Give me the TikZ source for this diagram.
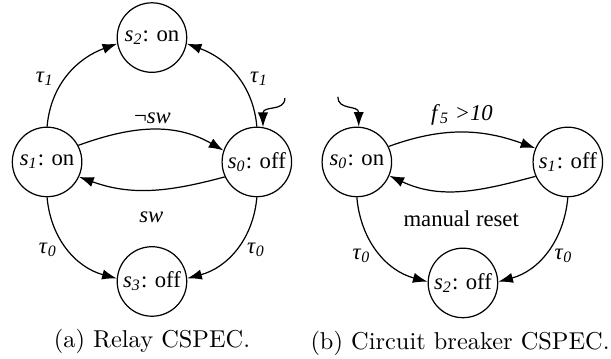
\documentclass[tikz,border=0pt]{standalone}
\usepackage{fontspec}
\newfontfamily\tnr{Liberation Serif}
\usetikzlibrary{arrows.meta}
\newcommand{\stname}[2]{\textit{s}\textsubscript{\textit{#1}}: #2}
\newcommand{\tlab}[1]{\textit{τ}\textsubscript{\textit{#1}}}
\begin{document}
\begin{tikzpicture}[node distance=86pt, every node/.style={font=\tnr\fontsize{9.3}{11}\selectfont}]
    \tikzstyle{state} = [circle, draw, line width=0.5pt, minimum size=28.5pt, inner sep=0pt]
    \tikzstyle{edge} = [-{Latex[length=6pt,width=4.2pt]}, line width=0.5pt]
    \tikzstyle{caption} = [font=\rmfamily\fontsize{10}{12}\selectfont]
    \useasboundingbox (0,0) rectangle (250.5pt,-146.8pt);
    % relay
    \node (ls1) [state] at (19.3pt,-66.4pt) {\stname{1}{on}};
    \node (ls0) [state, right of=ls1] {\stname{0}{off}};
    \node (ls2) [state, node distance=51pt, above of=ls1, xshift=43pt] {\stname{2}{on}};
    \node (ls3) [state, node distance=49pt, below of=ls1, xshift=43pt] {\stname{3}{off}};
    \node (capa) [caption, node distance=24.6pt, below of=ls3] {(a) Relay CSPEC.};
    \coordinate (ls0in) at ([shift={(11.5pt,26.2pt)}]ls0.center);

    \draw [edge] (ls1.north) to[out=85,in=200] node[left=1pt, pos=0.45] {\tlab{1}} (ls2.190);
    \draw [edge] (ls0.north) to[out=95,in=-20] node[right=1pt, pos=0.45] {\tlab{1}} (ls2.-10);
    \draw [edge] (ls1.28) to[out=20,in=150] node[above=-1pt] {¬\textit{sw}} (ls0.161);
    \draw [edge] (ls0.205) to[out=195,in=-20] node[below=5.5pt] {\textit{sw}} (ls1.-25);
    \draw [edge] (ls1.south) to[out=-85,in=165] node[left=1pt] {\tlab{0}} (ls3.175);
    \draw [edge] (ls0.south) to[out=-95,in=15] node[right=1pt] {\tlab{0}} (ls3.5);
    \draw [edge] (ls0in) .. controls +(0,-5.7pt) and +(0,9pt) .. (ls0.80);

    % circuit breaker
    \node (rs0) [state, node distance=41pt, right of=ls0] {\stname{0}{on}};
    \node (rs1) [state, node distance=86.5pt, right of=rs0] {\stname{1}{off}};
    \node (rs2) [state, node distance=49.6pt, below of=rs0, xshift=43.5pt] {\stname{2}{off}};
    \node (capb) [caption, node distance=24.6pt, below of=rs2, xshift=-1.2pt] {(b) Circuit breaker CSPEC.};
    \coordinate (rs0in) at ([shift={(-7.8pt,26.7pt)}]rs0.center);

    \draw [edge] (rs0.26) to[out=20,in=160] node[above=-0.5pt] {\textit{f}\textsubscript{\textit{5}}\textit{ >10}} (rs1.157);
    \draw [edge] (rs1.204) to[out=195,in=-25] node[below=4.5pt] {manual reset} (rs0.-23);
    \draw [edge] (rs0.south) to[out=-85,in=165] node[left=1pt, pos=0.55] {\tlab{0}} (rs2.178);
    \draw [edge] (rs1.south) to[out=-95,in=15] node[right=1pt, pos=0.55] {\tlab{0}} (rs2.2);
    \draw [edge] (rs0in) .. controls +(0,-5.7pt) and +(0,9pt) .. (rs0.87);
\end{tikzpicture}
\end{document}
